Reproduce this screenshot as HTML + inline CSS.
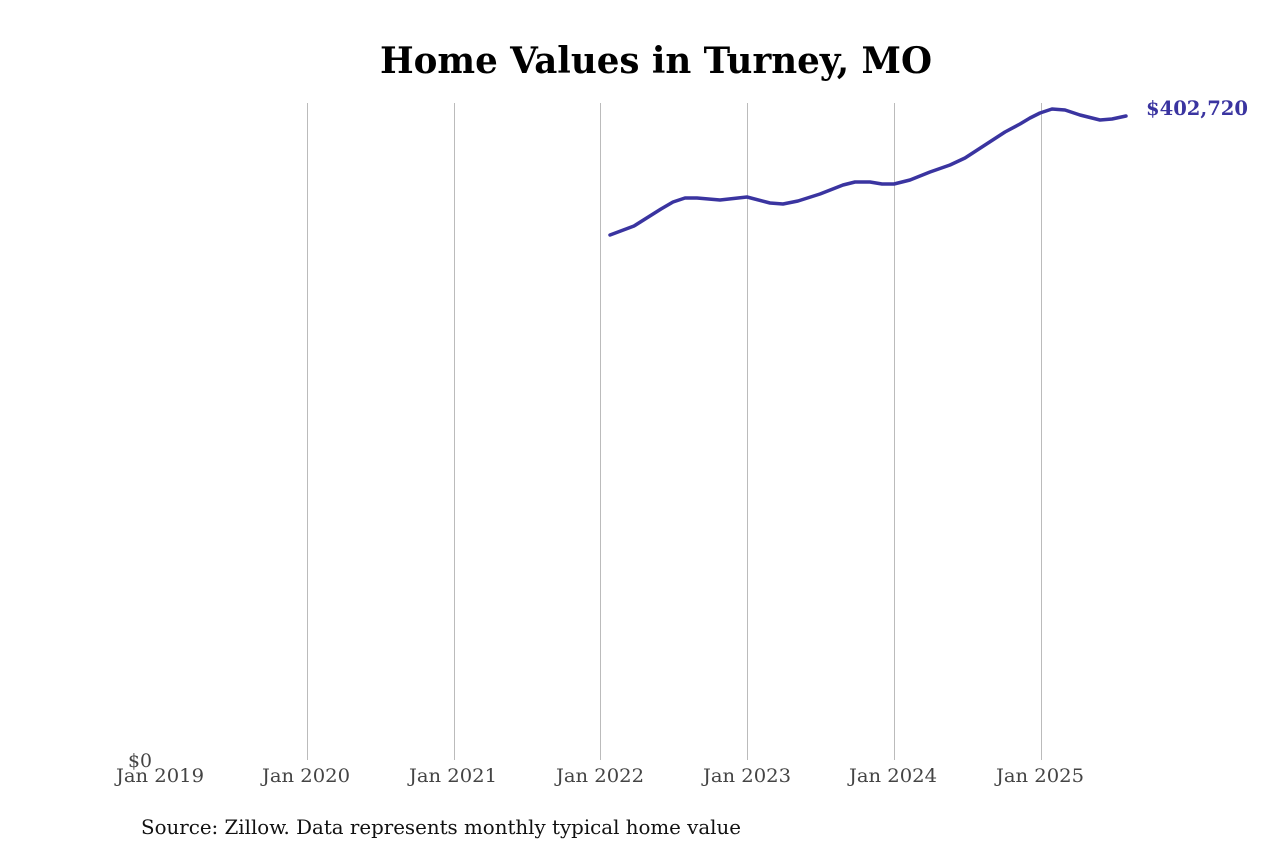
<!DOCTYPE html>
<html><head><meta charset="utf-8"><style>body{margin:0;background:#fff;}</style></head><body>
<svg width="1280" height="853" xmlns="http://www.w3.org/2000/svg" style="display:block">
<text x="380" y="73" textLength="552" lengthAdjust="spacingAndGlyphs" font-family="DejaVu Serif Condensed, DejaVu Serif, serif" font-weight="bold" font-size="36" fill="#000">Home Values in Turney, MO</text>
<g stroke="#bbb" stroke-width="1">
<line x1="307.5" y1="103" x2="307.5" y2="760"/>
<line x1="454.5" y1="103" x2="454.5" y2="760"/>
<line x1="600.5" y1="103" x2="600.5" y2="760"/>
<line x1="747.5" y1="103" x2="747.5" y2="760"/>
<line x1="894.5" y1="103" x2="894.5" y2="760"/>
<line x1="1041.5" y1="103" x2="1041.5" y2="760"/>
</g>
<polyline fill="none" stroke="#3a34a0" stroke-width="3.5" stroke-linejoin="round" stroke-linecap="round" points="610,235 634,226 661,209 673,202 685,198 697,198 720,200 747,197 770,203 783,204 798,201 820,194 843,185 855,182 870,182 882,184 894,184 910,180 930,172 950,165 965,158 985,145 1005,132 1020,124 1030,118 1040,113 1052,109 1065,110 1080,115 1100,120 1112,119 1126,116"/>
<text x="1146" y="115" textLength="102" lengthAdjust="spacingAndGlyphs" font-family="DejaVu Serif Condensed, DejaVu Serif, serif" font-weight="bold" font-size="20" fill="#3a34a0">$402,720</text>
<g font-family="DejaVu Serif Condensed, DejaVu Serif, serif" font-size="19" fill="#444">
<text x="128" y="767" textLength="24" lengthAdjust="spacingAndGlyphs">$0</text>
<text x="116" y="782" textLength="88" lengthAdjust="spacingAndGlyphs">Jan 2019</text>
<text x="262" y="782" textLength="88" lengthAdjust="spacingAndGlyphs">Jan 2020</text>
<text x="409" y="782" textLength="88" lengthAdjust="spacingAndGlyphs">Jan 2021</text>
<text x="556" y="782" textLength="88" lengthAdjust="spacingAndGlyphs">Jan 2022</text>
<text x="703" y="782" textLength="88" lengthAdjust="spacingAndGlyphs">Jan 2023</text>
<text x="849" y="782" textLength="88" lengthAdjust="spacingAndGlyphs">Jan 2024</text>
<text x="996" y="782" textLength="88" lengthAdjust="spacingAndGlyphs">Jan 2025</text>
</g>
<text x="141" y="834" textLength="600" lengthAdjust="spacingAndGlyphs" font-family="DejaVu Serif Condensed, DejaVu Serif, serif" font-size="20" fill="#111">Source: Zillow. Data represents monthly typical home value</text>
</svg>
</body></html>
